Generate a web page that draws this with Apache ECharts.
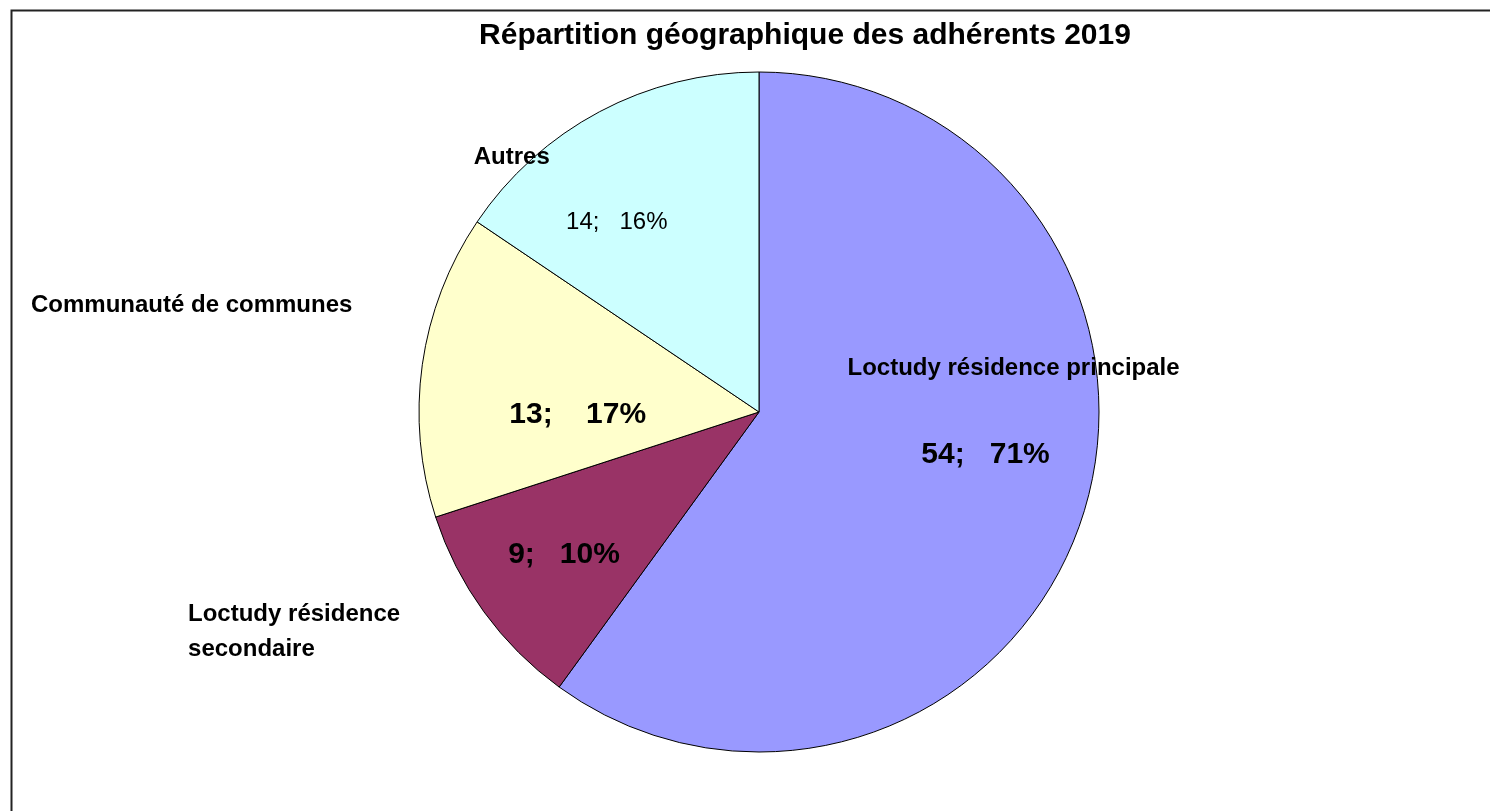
<!DOCTYPE html>
<html>
<head>
<meta charset="utf-8">
<script src="https://cdn.jsdelivr.net/npm/echarts@6/dist/echarts.min.js"></script>
<style>
html,body{margin:0;padding:0;background:#fff;}
#main{width:1490px;height:811px;}
</style>
</head>
<body>
<div id="main"></div>
<script>
// ---- data ----
const titleText = 'Répartition géographique des adhérents 2019';
const categories = ['Loctudy résidence principale', 'Loctudy résidence secondaire', 'Communauté de communes', 'Autres'];
const values = [54, 9, 13, 14];
const shownPercents = [71, 10, 17, 16]; // percentages as printed on the chart
const colors = ['#9999FF', '#993366', '#FFFFCC', '#CCFFFF'];

// ---- layout (label placement relative to default inside position) ----
const valueLabelOffsets = [[62, -11], [-55, 41], [-10, 27], [-61, -37]];
const valueLabelSizes = [30, 30, 30, 24];
const valueLabelWeights = ['bold', 'bold', 'bold', 'normal'];
const valueLabelSeparators = [';   ', ';   ', ';    ', ';   '];
const nameLabelOffsets = [[90, -97], [-320, 118], [-396, -83], [-166, -102]];
const nameLabelText = [
  'Loctudy résidence principale',
  '{l|Loctudy résidence}\n{l|secondaire}',
  'Communauté de communes',
  'Autres'
];

const FONT = '"Liberation Sans", Arial, sans-serif';

const chart = echarts.init(document.getElementById('main'), null, {renderer: 'canvas'});

const valueData = values.map((v, i) => ({
  name: categories[i],
  value: v,
  itemStyle: {color: colors[i]},
  label: {
    offset: valueLabelOffsets[i],
    fontSize: valueLabelSizes[i],
    fontWeight: valueLabelWeights[i]
  }
}));

const nameData = values.map((v, i) => ({
  name: categories[i],
  value: v,
  label: {
    offset: nameLabelOffsets[i],
    formatter: nameLabelText[i]
  }
}));

const common = {
  type: 'pie',
  center: [759, 412],
  radius: [0, 340],
  startAngle: 90,
  clockwise: true,
  animation: false,
  silent: true,
  labelLine: {show: false}
};

chart.setOption({
  backgroundColor: '#fff',
  title: {
    text: titleText,
    left: 800,
    textAlign: 'center',
    top: 16,
    textStyle: {fontFamily: FONT, fontSize: 30, fontWeight: 'bold', color: '#000'}
  },
  graphic: [{
    type: 'rect',
    shape: {x: 11.5, y: 10.5, width: 3000, height: 3000},
    style: {fill: 'none', stroke: '#222', lineWidth: 2},
    silent: true,
    z: 100
  }],
  series: [
    Object.assign({}, common, {
      name: 'values',
      itemStyle: {borderColor: '#000', borderWidth: 1},
      label: {
        show: true,
        position: 'inside',
        fontFamily: FONT,
        color: '#000',
        formatter: p => p.value + valueLabelSeparators[p.dataIndex] + shownPercents[p.dataIndex] + '%'
      },
      data: valueData
    }),
    Object.assign({}, common, {
      name: 'names',
      itemStyle: {color: 'rgba(0,0,0,0)', borderWidth: 0},
      label: {
        show: true,
        position: 'inside',
        fontFamily: FONT,
        fontSize: 24,
        fontWeight: 'bold',
        color: '#000',
        lineHeight: 35,
        rich: {
          l: {fontFamily: FONT, fontSize: 24, fontWeight: 'bold', color: '#000', lineHeight: 35, width: 222, align: 'left'}
        }
      },
      data: nameData
    })
  ]
});
</script>
</body>
</html>
